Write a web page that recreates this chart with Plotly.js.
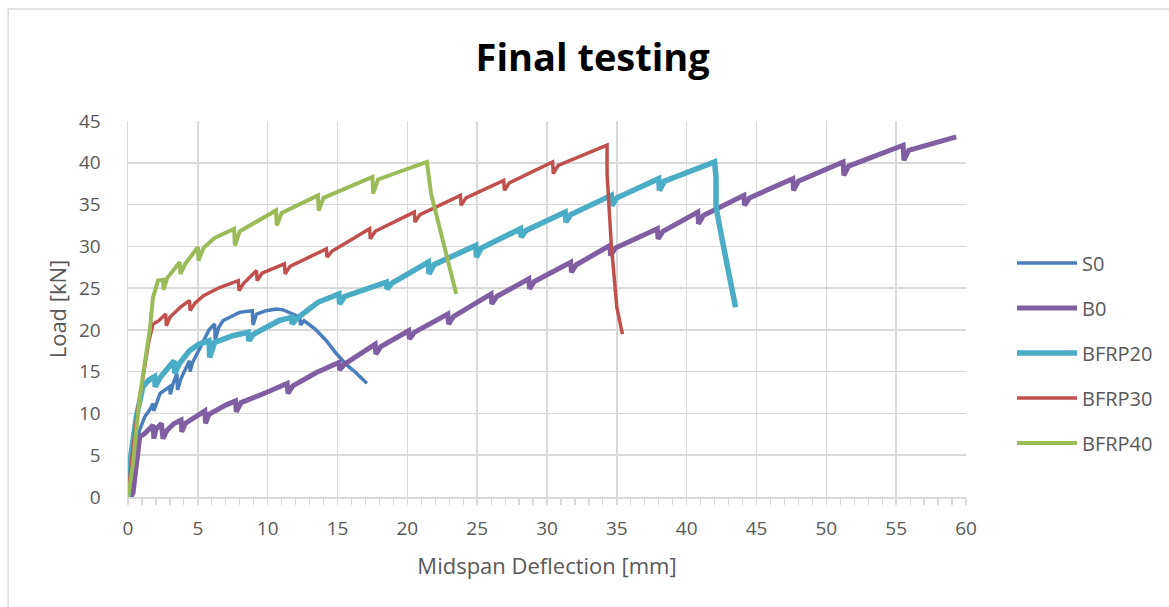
<!DOCTYPE html>
<html>
<head>
<meta charset="utf-8">
<script src="https://cdn.plot.ly/plotly-3.0.1.min.js"></script>
<style>
html,body{margin:0;padding:0;background:#fff;}
#chart{width:1169px;height:607px;}
</style>
</head>
<body>
<div id="chart"></div>
<script>
// Midspan deflection [mm] / load [kN]
const s0X = [0,0.3,0.6,0.83,1.2,1.55,1.79,1.84,2.0,2.3,2.98,3.03,3.2,3.4,3.5,3.55,3.8,4.4,4.45,4.6,4.9,5.3,5.8,6.2,6.25,6.5,6.8,7.4,7.98,8.9,8.95,9.2,9.9,10.6,11.1,11.8,12.3,12.35,12.6,13.4,14.2,14.9,15.6,16.3,17.1];
const s0Y = [0,3.5,6.4,8.0,9.6,10.4,11.2,10.3,11.0,12.4,13.2,12.3,13.4,14.2,14.8,12.8,14.2,16.3,15.0,16.0,17.0,18.3,20.0,20.7,18.8,20.3,21.1,21.6,22.1,22.3,20.6,21.9,22.3,22.5,22.4,21.9,21.5,20.6,21.1,20.1,18.7,17.2,15.9,14.9,13.6];

const b0X = [0,0.2,0.36,0.6,0.84,1.2,1.6,1.8,1.85,2.0,2.4,2.5,2.8,3.3,3.8,3.85,4.1,5.0,5.5,5.55,5.8,7.0,7.7,7.75,8.1,9.9,11.4,11.45,11.8,13.5,15.1,15.15,15.5,17.7,17.75,18.1,20.1,20.15,20.5,22.9,22.95,23.3,26.0,26.05,26.4,28.7,28.75,29.1,31.7,31.75,32.1,34.5,34.55,34.9,37.9,37.95,38.3,40.8,40.85,41.2,44.1,44.15,44.5,47.6,47.65,48.0,51.2,51.25,51.6,55.5,55.55,55.9,59.3];
const b0Y = [0,0,0.5,4.5,7.2,7.6,8.2,8.6,7.0,8.1,8.8,7.0,8.0,8.8,9.2,7.8,8.8,9.8,10.3,8.8,9.9,11.0,11.5,10.2,11.3,12.5,13.6,12.4,13.3,14.9,16.1,15.2,15.9,18.3,17.1,18.0,19.9,18.9,19.7,21.9,20.7,21.6,24.3,23.1,24.0,26.1,24.9,25.8,28.1,26.9,27.8,30.1,28.9,29.8,32.1,30.9,31.8,34.1,32.7,33.7,36.1,34.9,35.8,38.1,36.7,37.8,40.1,38.5,39.6,42.1,40.3,41.5,43.1];

const b20X = [0,0.12,0.6,1.07,1.5,1.9,1.95,2.3,3.3,3.35,3.7,4.4,5.1,5.8,5.85,6.2,7.5,8.6,8.65,9.0,10.8,11.7,11.75,12.1,13.6,15.1,15.15,15.5,18.5,18.55,18.9,21.5,21.55,21.9,24.9,24.95,25.3,28.1,28.15,28.5,31.3,31.35,31.7,34.6,34.65,35.0,38.0,38.05,38.4,42.0,42.1,42.1,42.6,43.5];
const b20Y = [0,4.0,9.6,13.2,14.0,14.4,13.2,14.3,16.3,14.8,16.0,17.5,18.3,18.7,16.7,18.5,19.3,19.7,18.7,19.5,21.1,21.5,20.7,21.4,23.3,24.3,23.1,24.0,25.7,24.9,25.6,28.1,26.7,27.8,30.1,28.7,29.8,32.1,31.1,31.9,34.1,32.9,33.8,36.1,34.9,35.8,38.1,36.7,37.8,40.1,38.3,34.7,30.3,22.7];

const b30X = [0,0.3,0.7,1.07,1.5,1.79,2.2,2.7,2.75,3.0,3.8,4.4,4.45,4.8,5.4,6.6,7.9,7.95,8.3,9.2,9.25,9.6,11.2,11.25,11.6,14.2,14.25,14.6,17.3,17.35,17.7,20.5,20.55,20.9,23.8,23.85,24.2,26.9,26.95,27.3,30.4,30.45,30.8,34.3,34.3,34.6,35.0,35.4];
const b30Y = [0,5.0,10.5,14.5,18.7,20.7,21.1,21.9,20.5,21.5,22.8,23.5,22.3,23.2,24.1,25.1,25.9,24.7,25.6,27.1,25.9,26.8,27.9,26.7,27.6,29.7,28.7,29.4,32.1,30.9,31.8,34.1,32.9,33.8,36.1,34.9,35.8,37.9,36.7,37.6,40.1,38.7,39.7,42.1,38.7,30.3,22.7,19.5];

const b40X = [0,0.36,0.84,1.3,1.55,1.79,2.15,2.5,2.55,2.8,3.7,3.75,4.1,5.0,5.05,5.4,6.2,7.6,7.65,8.0,10.6,10.65,11.0,13.6,13.65,14.0,17.5,17.55,17.9,21.4,21.7,23.5];
const b40Y = [0,4.0,12.0,17.0,19.9,23.9,25.9,26.0,24.8,26.2,28.1,26.7,27.9,29.9,28.3,29.8,31.0,32.1,30.1,31.8,34.3,32.5,34.0,36.1,34.3,35.8,38.3,36.3,38.0,40.1,36.3,24.3];

const seriesNames = ['S0','B0','BFRP20','BFRP30','BFRP40'];
const seriesX = [s0X,b0X,b20X,b30X,b40X];
const seriesY = [s0Y,b0Y,b20Y,b30Y,b40Y];
const seriesColors = ['#4A7EBB','#7F5FA1','#4BACC6','#C0504D','#9BBB59'];
const seriesWidths = [3.5,5,5.5,3.5,4];

const xTicks = [0,5,10,15,20,25,30,35,40,45,50,55,60];
const yTicks = [0,5,10,15,20,25,30,35,40,45];

const traces = seriesNames.map((n,i)=>({
  type:'scatter', mode:'lines', name:n,
  x:seriesX[i], y:seriesY[i],
  line:{color:seriesColors[i], width:seriesWidths[i]},
  legendgroup:'g'+i
}));

const gray = '#595959';
const L = 128, R = 967, T = 121, B = 497, W = 1169, H = 607;
const pw = R-L, ph = B-T;

const layout = {
  width:W, height:H,
  margin:{l:L, r:W-R, t:T, b:H-B},
  paper_bgcolor:'#ffffff', plot_bgcolor:'#ffffff',
  font:{family:'Open Sans, sans-serif', color:gray},
  title:{text:'Final testing', font:{family:'Open Sans, sans-serif', size:38, color:'#000000', weight:'bold'},
         x:0.507, xanchor:'center', y:1-58/H, yanchor:'middle', yref:'container'},
  showlegend:true,
  legend:{x:(1012-L)/pw, xanchor:'left', y:(B-353)/ph, yanchor:'middle',
          font:{size:20, color:gray}, tracegroupgap:16, itemwidth:60, bgcolor:'rgba(0,0,0,0)'},
  xaxis:{range:[0,60], tickvals:xTicks, ticktext:xTicks.map(String),
         showgrid:true, gridcolor:'#d9d9d9', gridwidth:1.5,
         showline:true, linecolor:'#d9d9d9', linewidth:1.5,
         ticks:'outside', ticklen:6, tickcolor:'#d9d9d9', tickwidth:1.5,
         minor:{dtick:1, ticks:'outside', ticklen:6, tickcolor:'#d9d9d9', tickwidth:1.2, showgrid:false},
         zeroline:false, tickfont:{size:19, color:gray}, ticklabelstandoff:8,
         title:{text:'Midspan Deflection [mm]', font:{size:22, color:gray}, standoff:18},
         fixedrange:true},
  yaxis:{range:[0,45], tickvals:yTicks, ticktext:yTicks.map(String),
         showgrid:true, gridcolor:'#d9d9d9', gridwidth:1.5,
         showline:true, linecolor:'#d9d9d9', linewidth:1.5,
         ticks:'', zeroline:false, tickfont:{size:19, color:gray}, ticklabelstandoff:22,
         title:{text:'Load [kN]', font:{size:22, color:gray}, standoff:6},
         fixedrange:true},
  shapes:[{type:'rect', xref:'paper', yref:'paper',
           x0:(8-L)/pw, x1:(1185-L)/pw, y0:(B-620)/ph, y1:(B-9)/ph,
           line:{color:'#d9d9d9', width:1.5}, fillcolor:'rgba(0,0,0,0)', layer:'below'}]
};

Plotly.newPlot('chart', traces, layout, {displayModeBar:false, staticPlot:true});
</script>
</body>
</html>
